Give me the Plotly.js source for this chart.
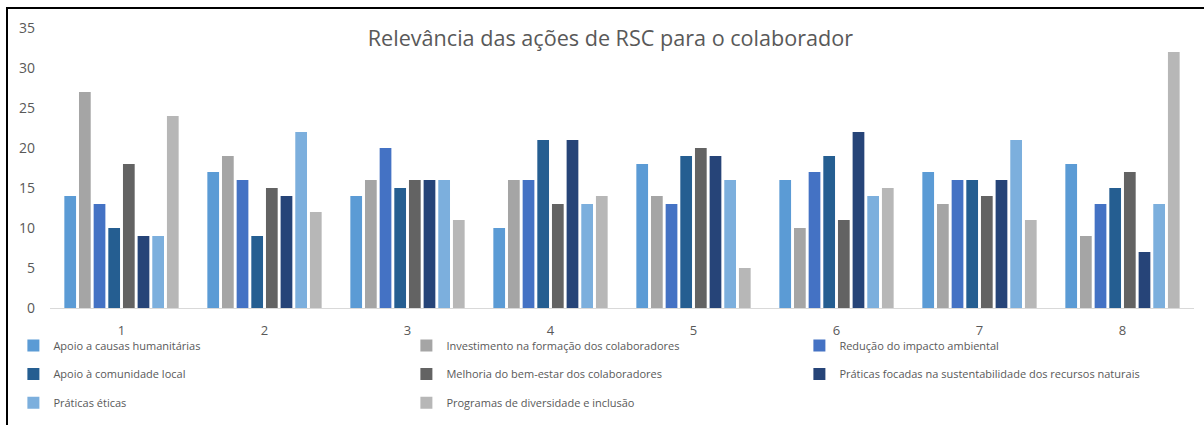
<!DOCTYPE html>
<html>
<head>
<meta charset="utf-8">
<script src="https://cdn.plot.ly/plotly-3.0.1.min.js"></script>
<style>
  html, body { margin: 0; padding: 0; background: #fff; }
  #wrap { position: relative; width: 1204px; height: 427px; overflow: hidden; }
  #chart { position: absolute; left: 0; top: 0; width: 1204px; height: 427px; }
  #frame { position: absolute; left: 6px; top: 7px; width: 1204px; height: 416px;
           border-top: 2px solid #000; border-left: 2px solid #000; pointer-events: none; }
</style>
</head>
<body>
<div id="wrap">
  <div id="chart"></div>
  <div id="frame"></div>
</div>
<script>
const categories = ["1", "2", "3", "4", "5", "6", "7", "8"];

const seriesNames = [
  "Apoio a causas humanitárias",
  "Investimento na formação dos colaboradores",
  "Redução do impacto ambiental",
  "Apoio à comunidade local",
  "Melhoria do bem-estar dos colaboradores",
  "Práticas focadas na sustentabilidade dos recursos naturais",
  "Práticas éticas",
  "Programas de diversidade e inclusão"
];

const apoioCausasHumanitarias   = [14, 17, 14, 10, 18, 16, 17, 18];
const investimentoFormacao      = [27, 19, 16, 16, 14, 10, 13, 9];
const reducaoImpactoAmbiental   = [13, 16, 20, 16, 13, 17, 16, 13];
const apoioComunidadeLocal      = [10, 9, 15, 21, 19, 19, 16, 15];
const melhoriaBemEstar          = [18, 15, 16, 13, 20, 11, 14, 17];
const praticasSustentabilidade  = [9, 14, 16, 21, 19, 22, 16, 7];
const praticasEticas            = [9, 22, 16, 13, 16, 14, 21, 13];
const programasDiversidade      = [24, 12, 11, 14, 5, 15, 11, 32];

const seriesValues = [
  apoioCausasHumanitarias, investimentoFormacao, reducaoImpactoAmbiental,
  apoioComunidadeLocal, melhoriaBemEstar, praticasSustentabilidade,
  praticasEticas, programasDiversidade
];

const colors = ["#5B9BD5", "#A5A5A5", "#4472C4", "#255E91", "#636363", "#264478", "#7CAFDD", "#B7B7B7"];
const legendIds = ["legend", "legend", "legend", "legend2", "legend2", "legend2", "legend3", "legend3"];

const traces = seriesNames.map((name, i) => ({
  type: "bar",
  name: name,
  x: categories,
  y: seriesValues[i],
  marker: { color: colors[i] },
  legend: legendIds[i]
}));

const textColor = "#595959";
const legendBase = {
  orientation: "h",
  xanchor: "left",
  yanchor: "middle",
  x: -0.032,
  entrywidth: 348,
  entrywidthmode: "pixels",
  font: { family: "Open Sans, sans-serif", size: 11, color: textColor },
  bgcolor: "rgba(0,0,0,0)",
  traceorder: "normal"
};

const layout = {
  width: 1204,
  height: 427,
  margin: { l: 50, r: 10, t: 28, b: 114 },
  paper_bgcolor: "#ffffff",
  plot_bgcolor: "#ffffff",
  font: { family: "Open Sans, sans-serif", color: textColor },
  title: {
    text: "Relevância das ações de RSC para o colaborador",
    font: { family: "Open Sans, sans-serif", size: 21.6, color: textColor },
    x: 0.507, xanchor: "center",
    y: 0.91, yanchor: "middle"
  },
  barmode: "group",
  bargap: 0.18,
  bargroupgap: 0.2,
  xaxis: {
    type: "category",
    showline: true,
    linecolor: "#D9D9D9",
    linewidth: 1,
    showgrid: false,
    ticks: "",
    ticklabelstandoff: 10,
    tickfont: { size: 13, color: textColor }
  },
  yaxis: {
    range: [0, 35],
    dtick: 5,
    showgrid: false,
    zeroline: false,
    showline: false,
    ticks: "",
    ticklabelstandoff: 14,
    tickfont: { size: 14, color: textColor }
  },
  showlegend: true,
  legend: Object.assign({}, legendBase, { y: -0.134 }),
  legend2: Object.assign({}, legendBase, { y: -0.236 }),
  legend3: Object.assign({}, legendBase, { y: -0.338 })
};

Plotly.newPlot("chart", traces, layout, { displayModeBar: false, staticPlot: true });
</script>
</body>
</html>
